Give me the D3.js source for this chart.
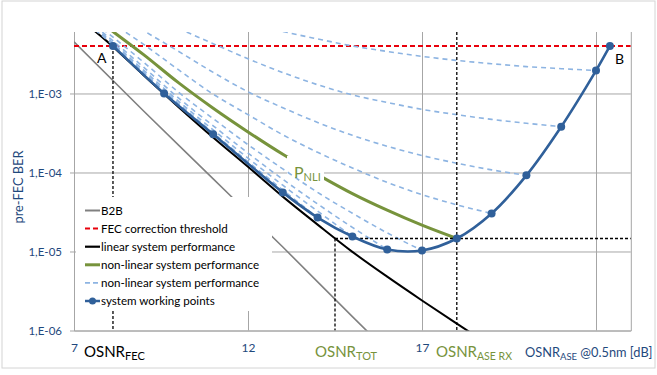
<!DOCTYPE html>
<html>
<head>
<meta charset="utf-8">
<script src="https://cdn.jsdelivr.net/npm/d3@7"></script>
<style>
  body { margin: 0; background: #fff; }
  svg { display: block; font-family: Lato, "Open Sans", sans-serif; }
</style>
</head>
<body>
<svg id="chart" width="657" height="375"></svg>
<script>
// DATA (OSNR in dB, BER)
const xTicks = [7, 12, 17, 22];
const xTickLabels = ["7", "12", "17", ""];
const yTicks = [1e-6, 1e-5, 1e-4, 1e-3];
const yTickLabels = ["1,E-06", "1,E-05", "1,E-04", "1,E-03"];

const fecThreshold = 4e-3;
const osnrFec = 8.12;
const osnrTot = 14.5;
const osnrAseRx = 18.0;
const berRx = 1.46e-5;

const b2bOsnr = [7, 9, 11, 13, 15, 16];
const b2bBer = [4.5e-3, 6.0e-4, 8.3e-5, 1.14e-5, 1.5e-6, 5.5e-7];

const linearOsnr = [7, 8, 9, 10, 11, 12, 13, 14, 15, 16, 17, 18, 19];
const linearBer = [1.0e-2, 4.37e-3, 1.70e-3, 6.76e-4, 2.77e-4, 1.18e-4, 4.95e-5, 2.19e-5, 9.9e-6, 4.8e-6, 2.4e-6, 1.22e-6, 6.3e-7];

// highlighted non-linear curve, from 7 dB
const greenBer = [1.40e-2, 6.65e-3, 3.10e-3, 1.37e-3, 6.5e-4, 3.26e-4, 1.70e-4, 9.4e-5, 5.4e-5, 3.33e-5, 2.15e-5, 1.46e-5];

// dashed non-linear curves, one per working point, 1 dB steps
const nlStart = [12, 10, 8, 7, 7, 7, 7, 7, 7];
const nlBerP13 = [7.9e-3, 6.1e-3, 4.9e-3, 4.0e-3, 3.4e-3, 2.95e-3, 2.62e-3, 2.38e-3, 2.19e-3, 2.06e-3, 1.95e-3];
const nlBerP12 = [6.65e-3, 4.27e-3, 2.75e-3, 1.84e-3, 1.29e-3, 9.6e-4, 7.7e-4, 6.3e-4, 5.4e-4, 4.7e-4, 4.2e-4, 3.8e-4];
const nlBerP11 = [1.15e-2, 6.24e-3, 3.42e-3, 1.85e-3, 1.05e-3, 6.6e-4, 4.3e-4, 2.95e-4, 2.15e-4, 1.64e-4, 1.31e-4, 1.08e-4, 9.2e-5];
const nlBerP10 = [1.68e-2, 8.3e-3, 4.19e-3, 2.0e-3, 9.8e-4, 5.4e-4, 3.0e-4, 1.8e-4, 1.14e-4, 7.5e-5, 5.25e-5, 3.9e-5, 3.03e-5];
const nlBerP8 = [1.23e-2, 5.68e-3, 2.49e-3, 1.04e-3, 4.8e-4, 2.25e-4, 1.11e-4, 5.6e-5, 3.05e-5, 1.72e-5, 1.03e-5];
const nlBerP7 = [1.14e-2, 5.13e-3, 2.15e-3, 8.8e-4, 3.9e-4, 1.76e-4, 8.2e-5, 4.0e-5, 2.02e-5, 1.06e-5];
const nlBerP6 = [1.08e-2, 4.84e-3, 1.97e-3, 8.0e-4, 3.46e-4, 1.52e-4, 6.9e-5, 3.24e-5, 1.55e-5];
const nlBerP5 = [1.05e-2, 4.65e-3, 1.86e-3, 7.5e-4, 3.17e-4, 1.37e-4, 6.0e-5, 2.69e-5];
const nlBerP4 = [1.035e-2, 4.57e-3, 1.82e-3, 7.3e-4, 3.05e-4, 1.32e-4, 5.6e-5];

// system working points
const wpOsnr = [8.12, 9.59, 11, 13, 14, 15, 16, 17, 18, 19, 20, 21, 22, 22.4];
const wpBer = [4.0e-3, 1.0e-3, 3.05e-4, 5.6e-5, 2.69e-5, 1.55e-5, 1.06e-5, 1.03e-5, 1.46e-5, 3.03e-5, 9.2e-5, 3.8e-4, 1.95e-3, 4.0e-3];

const legendLabels = ["B2B", "FEC correction threshold", "linear system performance",
    "non-linear system performance", "non-linear system performance", "system working points"];

// COLORS
const gridColor = "#a6a6a6";
const textBlue = "#1f497d";
const green = "#77933c";
const wpBlue = "#30609a";
const dashBlue = "#8db4e2";

const svg = d3.select("#chart");

// SCALES
const x = d3.scaleLinear().domain([7, 23]).range([74, 630.8]);
const y = d3.scaleLog().domain([1e-6, 6e-3]).range([330.5, 32]);
const plotW = x.range()[1] - x.range()[0];
const plotH = y.range()[0] - y.range()[1];

const zip = (xs, ys) => xs.map((v, i) => [v, ys[i]]);
const line = d3.line().x(d => x(d[0])).y(d => y(d[1])).curve(d3.curveMonotoneX);

// chart border
svg.append("rect").attr("x", 2).attr("y", 1).attr("width", 653).attr("height", 367)
    .attr("fill", "#fff").attr("stroke", "#d4d4d4");

// GRID
svg.append("g").attr("transform", `translate(0,${y.range()[0]})`)
    .call(d3.axisBottom(x).tickValues(xTicks).tickSize(-plotH).tickFormat(""))
    .call(g => g.select(".domain").attr("stroke", gridColor))
    .call(g => g.selectAll(".tick line").attr("stroke", gridColor));

svg.append("g").attr("transform", `translate(${x.range()[0] - 4},0)`)
    .call(d3.axisLeft(y).tickValues(yTicks).tickSize(-(plotW + 4)).tickFormat(""))
    .call(g => g.select(".domain").remove())
    .call(g => g.selectAll(".tick line").attr("stroke", gridColor));

// AXIS LABELS
svg.append("g").attr("transform", `translate(${x.range()[0] - 4},0)`)
    .call(d3.axisLeft(y).tickValues(yTicks).tickFormat((d, i) => yTickLabels[i]).tickSize(0).tickPadding(8))
    .call(g => g.select(".domain").remove())
    .call(g => g.selectAll("text").attr("fill", textBlue).style("font-size", "11.5px").style("font-family", "Lato"));

svg.append("g").attr("transform", `translate(0,${y.range()[0]})`)
    .call(d3.axisBottom(x).tickValues(xTicks).tickFormat((d, i) => xTickLabels[i]).tickSize(0).tickPadding(13))
    .call(g => g.select(".domain").remove())
    .call(g => g.selectAll("text").attr("fill", textBlue).style("font-size", "12px").style("font-family", "Lato"));

// PLOT
svg.append("clipPath").attr("id", "plotClip")
    .append("rect").attr("x", x.range()[0]).attr("y", y.range()[1]).attr("width", plotW).attr("height", plotH);
const plot = svg.append("g").attr("clip-path", "url(#plotClip)");

plot.append("path").datum(zip(b2bOsnr, b2bBer)).attr("d", line)
    .attr("fill", "none").attr("stroke", "#808080").attr("stroke-width", 1.6);

plot.append("line").attr("x1", x.range()[0]).attr("x2", x.range()[1])
    .attr("y1", y(fecThreshold)).attr("y2", y(fecThreshold))
    .attr("stroke", "#e8000b").attr("stroke-width", 2).attr("stroke-dasharray", "5,3");

plot.append("path").datum(zip(linearOsnr, linearBer)).attr("d", line)
    .attr("fill", "none").attr("stroke", "#000").attr("stroke-width", 2);

plot.append("path").datum(zip(greenBer.map((d, i) => 7 + i), greenBer)).attr("d", line)
    .attr("fill", "none").attr("stroke", green).attr("stroke-width", 3);

// gap in the green curve behind the P_NLI label
plot.append("rect").attr("x", 287).attr("y", 156).attr("width", 37).attr("height", 24).attr("fill", "#fff");

const nlSeries = [nlBerP13, nlBerP12, nlBerP11, nlBerP10, nlBerP8, nlBerP7, nlBerP6, nlBerP5, nlBerP4];
plot.selectAll("path.nl").data(nlSeries).join("path").attr("class", "nl")
    .attr("d", (s, k) => line(s.map((b, i) => [nlStart[k] + i, b])))
    .attr("fill", "none").attr("stroke", dashBlue).attr("stroke-width", 1.6).attr("stroke-dasharray", "5,4");

// guide lines
const guide = (x1, y1, x2, y2) => plot.append("line")
    .attr("x1", x1).attr("y1", y1).attr("x2", x2).attr("y2", y2)
    .attr("stroke", "#000").attr("stroke-width", 1.3).attr("stroke-dasharray", "3,2");
guide(x(osnrFec), y(fecThreshold), x(osnrFec), y.range()[0]);
guide(x(osnrAseRx), y.range()[1], x(osnrAseRx), y.range()[0]);
guide(x(osnrTot), y(berRx), x.range()[1], y(berRx));
guide(x(osnrTot), y(berRx), x(osnrTot), y.range()[0]);

plot.append("path").datum(zip(wpOsnr, wpBer))
    .attr("d", d3.line().x(d => x(d[0])).y(d => y(d[1])).curve(d3.curveCatmullRom.alpha(0.5)))
    .attr("fill", "none").attr("stroke", wpBlue).attr("stroke-width", 2.6);

svg.append("g").selectAll("circle").data(zip(wpOsnr, wpBer)).join("circle")
    .attr("cx", d => x(d[0])).attr("cy", d => y(d[1])).attr("r", 4).attr("fill", wpBlue);

// LEGEND
const legend = svg.append("g");
legend.append("rect").attr("x", 76).attr("y", 197).attr("width", 196).attr("height", 114).attr("fill", "#fff");
const swatch = [
    { stroke: "#808080", width: 2, dash: null },
    { stroke: "#e8000b", width: 2, dash: "5,3" },
    { stroke: "#000", width: 2.2, dash: null },
    { stroke: green, width: 3, dash: null },
    { stroke: dashBlue, width: 1.8, dash: "5,3" },
    { stroke: wpBlue, width: 2.5, dash: null }
];
legendLabels.forEach((label, i) => {
    const cy = 210.5 + i * 18.1;
    legend.append("line").attr("x1", 85).attr("x2", 100).attr("y1", cy).attr("y2", cy)
        .attr("stroke", swatch[i].stroke).attr("stroke-width", swatch[i].width)
        .attr("stroke-dasharray", swatch[i].dash);
    if (i === 5) legend.append("circle").attr("cx", 92.5).attr("cy", cy).attr("r", 3.5).attr("fill", wpBlue);
    legend.append("text").attr("x", 101).attr("y", cy).attr("dy", "0.35em")
        .style("font-size", "11.6px").attr("fill", "#000").text(label);
});

// ANNOTATIONS
svg.append("text").attr("x", 97).attr("y", 63).style("font-size", "14px").text("A");
svg.append("text").attr("x", 615).attr("y", 64).style("font-size", "14px").text("B");

const pnli = svg.append("text").attr("x", 294).attr("y", 178).attr("fill", green).style("font-size", "16px");
pnli.append("tspan").text("P");
pnli.append("tspan").attr("dy", 3).style("font-size", "11px").text("NLI");

function subLabel(xPos, color, main, sub, size, subSize, tail) {
    const t = svg.append("text").attr("x", xPos).attr("y", 357).attr("fill", color).style("font-size", size + "px");
    t.append("tspan").text(main);
    t.append("tspan").attr("dy", 3).style("font-size", subSize + "px").text(sub);
    if (tail) t.append("tspan").attr("dy", -3).text(tail);
}
subLabel(84, "#000", "OSNR", "FEC", 15, 11);
subLabel(315, green, "OSNR", "TOT", 15, 11);
subLabel(436, green, "OSNR", "ASE RX", 15, 10.5);
subLabel(525, textBlue, "OSNR", "ASE", 12.8, 9.5, " @0.5nm [dB]");

svg.append("text").attr("transform", "translate(19,187) rotate(-90)")
    .attr("text-anchor", "middle").attr("dy", "0.35em")
    .attr("fill", textBlue).style("font-size", "12.8px").text("pre-FEC BER");
</script>
</body>
</html>
